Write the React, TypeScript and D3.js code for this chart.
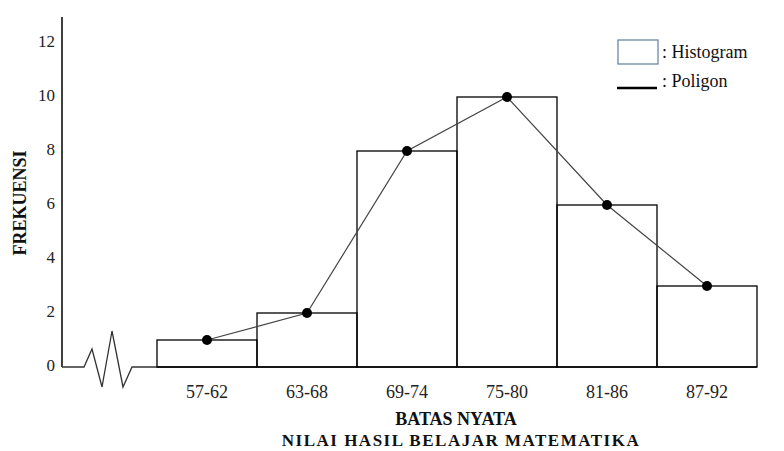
import React from "react";
import * as d3 from "d3";

const categories = ["57-62", "63-68", "69-74", "75-80", "81-86", "87-92"];
const frequencies = [1, 2, 8, 10, 6, 3];
const yTicks = [0, 2, 4, 6, 8, 10, 12];

const W = 784;
const H = 451;
const M = 8;
const x0 = 62;
const y0 = 367;

export default function App() {
  const x = d3.scaleBand<string>().domain(categories).range([157, 757]).padding(0);
  const y = d3.scaleLinear().domain([0, 12]).range([y0, 43]);
  const pts: [number, number][] = categories.map((c, i) => [x(c)! + x.bandwidth() / 2, y(frequencies[i])]);
  const line = d3.line();
  const zig: [number, number][] = [
    [x0, y0], [84, y0], [92, 349], [102, 387], [112, 331], [123, 387], [132, y0], [157, y0],
  ];
  const ts = { fontFamily: '"Liberation Serif"' };
  return (
    <svg width={W - M} height={H - M}>
      <g transform={`translate(${-M},${-M})`}>
        <line x1={x0} y1={17} x2={x0} y2={y0} stroke="#000" strokeWidth={1.5} />
        <path d={line(zig)!} fill="none" stroke="#333" strokeWidth={1.3} />
        <line x1={157} y1={y0} x2={757} y2={y0} stroke="#000" strokeWidth={1.3} />
        {yTicks.map((t) => (
          <text key={t} x={55} y={y(t) + 4} textAnchor="end" fontSize={17} fill="#222" style={ts}>{t}</text>
        ))}
        {categories.map((c, i) => (
          <rect key={c} x={x(c)!} y={y(frequencies[i])} width={x.bandwidth()} height={y0 - y(frequencies[i])}
            fill="none" stroke="#000" strokeWidth={1.3} />
        ))}
        <path d={line(pts)!} fill="none" stroke="#444" strokeWidth={1.2} />
        {pts.map((p, i) => (
          <circle key={i} cx={p[0]} cy={p[1]} r={5} fill="#000" />
        ))}
        {categories.map((c) => (
          <text key={c} x={x(c)! + x.bandwidth() / 2} y={398} textAnchor="middle" fontSize={18} fill="#222" style={ts}>{c}</text>
        ))}
        <text x={456} y={425} textAnchor="middle" fontSize={18} fontWeight="bold" fill="#111" style={ts}>BATAS NYATA</text>
        <text x={461} y={446} textAnchor="middle" fontSize={17} fontWeight="bold" fill="#111" letterSpacing={1.5} style={ts}>NILAI  HASIL  BELAJAR  MATEMATIKA</text>
        <text transform="translate(26,203) rotate(-90)" textAnchor="middle" fontSize={18} fontWeight="bold" fill="#111" style={ts}>FREKUENSI</text>
        <rect x={618} y={40} width={40} height={24} fill="none" stroke="#6d87a8" strokeWidth={1.3} />
        <text x={662} y={58} fontSize={18} fill="#111" style={ts}>: Histogram</text>
        <line x1={617} y1={88} x2={657} y2={88} stroke="#000" strokeWidth={2.5} />
        <text x={662} y={87} fontSize={18} fill="#111" style={ts}>: Poligon</text>
      </g>
    </svg>
  );
}
